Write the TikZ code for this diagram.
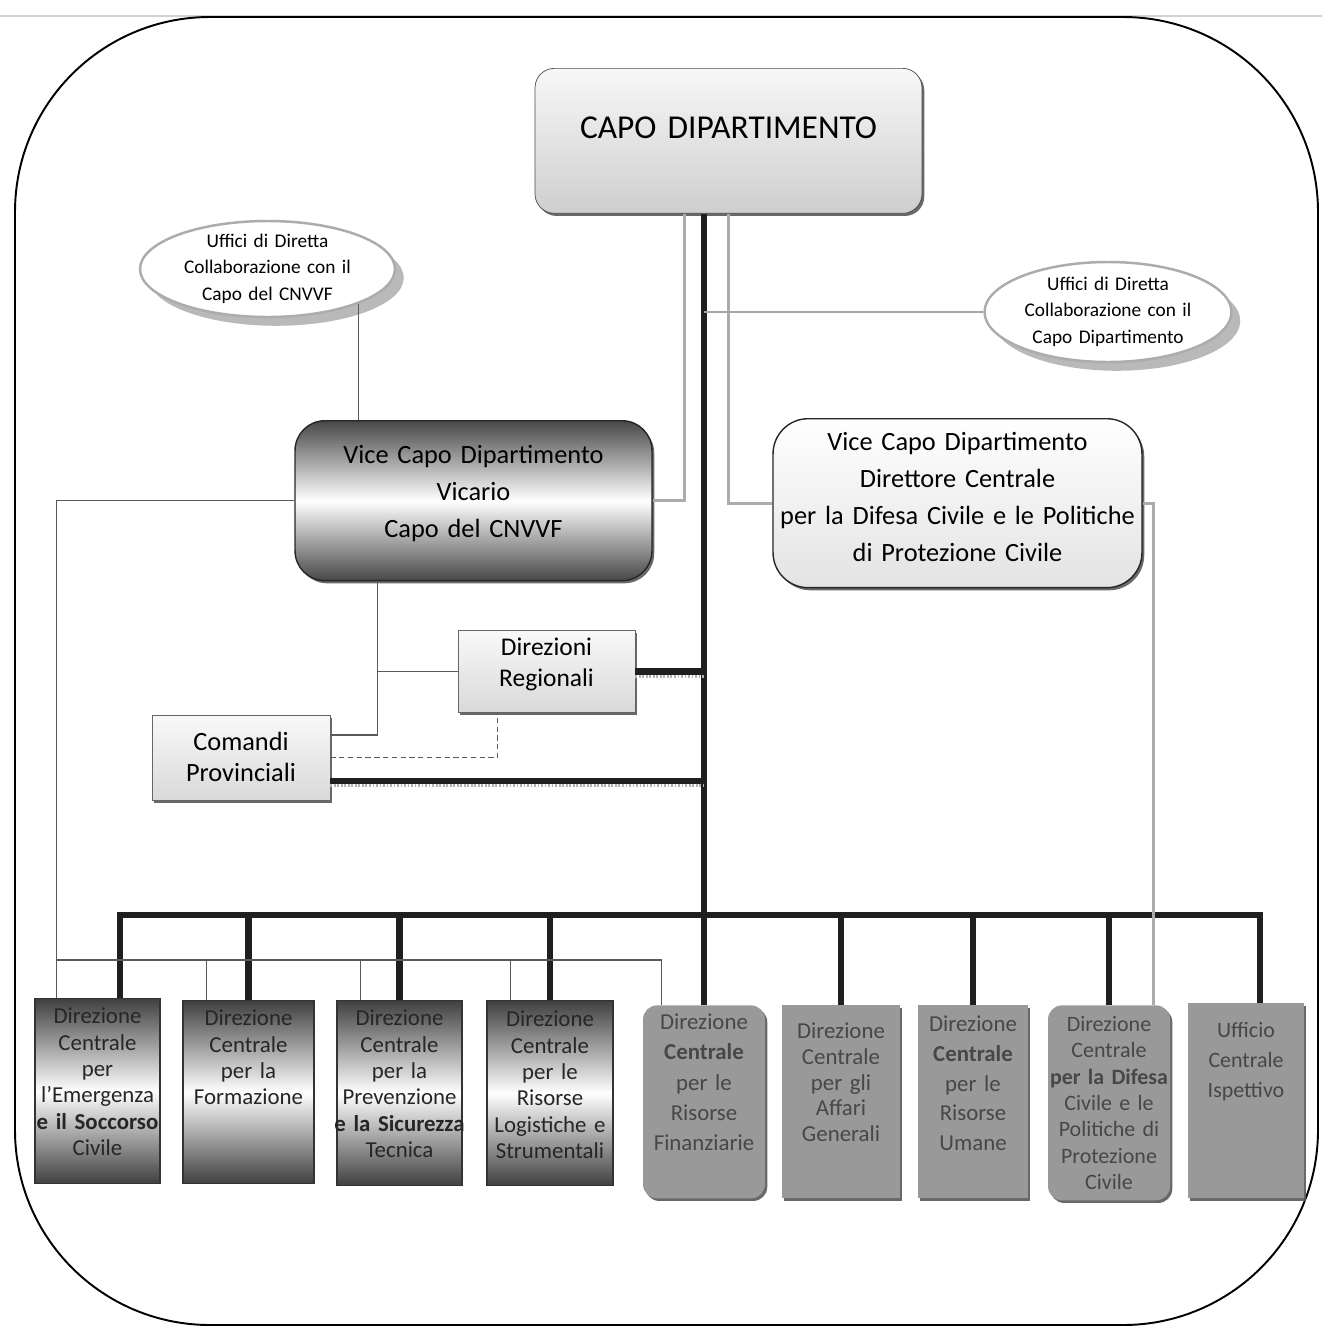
\documentclass[tikz,border=0pt]{standalone}
\usepackage{fontspec}
\setmainfont{Carlito}
\usetikzlibrary{shapes.geometric,shadows,calc}

\begin{document}
\begin{tikzpicture}[x=0.02cm,y=-0.02cm,
    shd/.style={drop shadow={shadow xshift=1.3pt,shadow yshift=-1.5pt,fill=black!65,opacity=.9}},
    capobox/.style={draw=black!70,rounded corners=11pt,top color=gray!6,bottom color=gray!38,shd,
      inner sep=0pt,align=center,anchor=north,font=\fontsize{19}{23}\selectfont},
    vicebox/.style={draw=black!85,line width=.8pt,inner sep=0pt,align=center,anchor=north,
      font=\fontsize{15}{21}\selectfont,shd},
    uff/.style={ellipse,draw=gray!65,line width=1.4pt,fill=white,inner sep=0pt,align=center,
      text height=0pt,text depth=0.88cm,font=\fontsize{11}{15.3}\selectfont,
      drop shadow={shadow xshift=5pt,shadow yshift=-5pt,fill=gray!55,opacity=1}},
    sqbox/.style={draw=black!60,top color=gray!5,bottom color=gray!30,inner sep=0pt,
      align=center,anchor=north,shd},
    darkdc/.style={draw=black!80,line width=.8pt,top color=black!75,bottom color=black!75,
      middle color=white,inner sep=0pt,align=center,anchor=north,
      font=\fontsize{13}{15}\selectfont,text=black!85},
    graydc/.style={fill=black!40,inner sep=0pt,align=center,anchor=north,text=black!72,shd},
    bus/.style={draw=black!88,line width=3.6pt},
    shdln/.style={preaction={draw=gray!60,line width=1.4pt,dash pattern=on 1pt off 1pt,
      transform canvas={yshift=-2.8pt}}},
    grayln/.style={draw=gray!65,line width=1.6pt},
    thinln/.style={draw=black!65,line width=.7pt}
  ]
  \useasboundingbox (0,0) rectangle (1322,1329);
  \draw[gray!35,line width=.6pt] (0,16) -- (1322,16);
  \draw[line width=1.1pt,rounded corners=3.9cm] (15,17) rectangle (1318,1325);

  % vertici
  \node[capobox,text width=7.74cm,text height=1.40cm,text depth=1.50cm] (capo) at (728.5,68)
    {CAPO DIPARTIMENTO};
  \node[vicebox,rounded corners=17pt,top color=black!72,bottom color=black!72,middle color=white,
    text width=7.14cm,text height=0.86cm,text depth=2.34cm] (vic) at (473.5,420)
    {Vice Capo Dipartimento\\Vicario\\Capo del CNVVF};
  \node[vicebox,rounded corners=20pt,top color=white,bottom color=gray!22,
    text width=7.38cm,text height=0.64cm,text depth=2.74cm] (vdf) at (957.5,418)
    {Vice Capo Dipartimento\\Direttore Centrale\\per la Difesa Civile e le Politiche\\di Protezione Civile};

  % uffici di diretta collaborazione
  \node[uff,minimum width=5.1cm,minimum height=1.92cm,text width=3.4cm] (ucnv) at (267.5,269)
    {Uffici di Diretta\\Collaborazione con il\\Capo del CNVVF};
  \node[uff,minimum width=4.94cm,minimum height=2cm,text width=3.4cm] (ucd) at (1108,312)
    {Uffici di Diretta\\Collaborazione con il\\Capo Dipartimento};

  % strutture territoriali
  \node[sqbox,text width=3.54cm,text height=0.5cm,text depth=1.14cm,
    font=\fontsize{14.5}{18}\selectfont] (reg) at (546.5,630) {Direzioni\\Regionali};
  \node[sqbox,text width=3.56cm,text height=0.7cm,text depth=1.0cm,
    font=\fontsize{15}{18}\selectfont] (cmd) at (241,715) {Comandi\\Provinciali};

  % direzioni centrali
  \node[darkdc,text width=2.5cm,text height=0.5cm,text depth=3.2cm] (emg) at (97.5,998)
    {Direzione\\Centrale\\per\\l’Emergenza\\\makebox[2.5cm]{\textbf{e il Soccorso}}\\Civile};
  \node[darkdc,text width=2.62cm,text height=0.5cm,text depth=3.16cm] (frm) at (248.5,1000)
    {Direzione\\Centrale\\per la\\Formazione};
  \node[darkdc,text width=2.5cm,text height=0.5cm,text depth=3.2cm] (prv) at (399.5,1000)
    {Direzione\\Centrale\\per la\\Prevenzione\\\makebox[2.5cm]{\textbf{e la Sicurezza}}\\Tecnica};
  \node[darkdc,text width=2.52cm,text height=0.52cm,text depth=3.18cm] (lgs) at (550,1000)
    {Direzione\\Centrale\\per le\\Risorse\\Logistiche e\\Strumentali};

  \node[graydc,rounded corners=8pt,text width=2.44cm,text height=0.48cm,text depth=3.38cm,
    font=\fontsize{13}{17.3}\selectfont] (fin) at (704,1005)
    {Direzione\\\textbf{Centrale}\\per le\\Risorse\\Finanziarie};
  \node[graydc,text width=2.36cm,text height=0.66cm,text depth=3.2cm,
    font=\fontsize{13}{14.7}\selectfont] (aff) at (841,1005)
    {Direzione\\Centrale\\per gli\\Affari\\Generali};
  \node[graydc,text width=2.2cm,text height=0.52cm,text depth=3.34cm,
    font=\fontsize{13}{17}\selectfont] (uma) at (973,1005)
    {Direzione\\\textbf{Centrale}\\per le\\Risorse\\Umane};
  \node[graydc,rounded corners=8pt,text width=2.44cm,text height=0.52cm,text depth=3.38cm,
    font=\fontsize{12.5}{15}\selectfont] (dcd) at (1109,1005)
    {Direzione\\Centrale\\\textbf{per la Difesa}\\Civile e le\\Politiche di\\Protezione\\Civile};
  \node[graydc,text width=2.32cm,text height=0.68cm,text depth=3.22cm,
    font=\fontsize{12.5}{17}\selectfont] (isp) at (1246,1003)
    {Ufficio\\Centrale\\Ispettivo};

  % collegamenti
  \coordinate (busy) at (0,915);
  \coordinate (tiey) at (0,960);
  \coordinate (vk) at ([xshift=1.66cm]vic.south west);

  \draw[bus] (capo.south -| fin.north) -- (fin.north);
  \draw[bus] ([xshift=0.45cm]emg.north) |- ([xshift=0.28cm]isp.north |- busy)
    -- ([xshift=0.28cm]isp.north);
  \foreach \n in {frm,prv,lgs,aff,uma,dcd}
    \draw[bus] (\n.north) -- (\n.north |- busy);
  \draw[bus,shdln] (reg.east) -- (reg.east -| fin.north);
  \draw[bus,shdln] ([yshift=0.4cm]cmd.south east) -- ([yshift=0.4cm]cmd.south east -| fin.north);

  \draw[grayln] ([xshift=3cm]capo.south west) |- (vic.east);
  \draw[grayln] (capo.south) |- (vdf.west);
  \draw[grayln] (vdf.east) -| ([xshift=-0.34cm]dcd.north east);
  \draw[gray!70,line width=1pt] (ucd.west) -- (ucd.west -| fin.north);

  \draw[thinln] (ucnv.south east) -- (ucnv.south east |- vic.north);
  \draw[thinln] (vic.west) -| ([xshift=0.44cm]emg.north west);
  \draw[thinln] ([xshift=0.44cm]emg.north west |- tiey) -| ([xshift=0.38cm]fin.north west);
  \foreach \n in {frm,prv,lgs}
    \draw[thinln] ([xshift=0.48cm]\n.north west) -- ([xshift=0.48cm]\n.north west |- tiey);
  \draw[thinln] (vk) |- ([yshift=-0.4cm]cmd.north east);
  \draw[thinln] (reg.west) -- (reg.west -| vk);
  \draw[thinln,dash pattern=on 3pt off 2pt] (cmd.east) -| ([xshift=0.8cm]reg.south west);
\end{tikzpicture}
\end{document}
